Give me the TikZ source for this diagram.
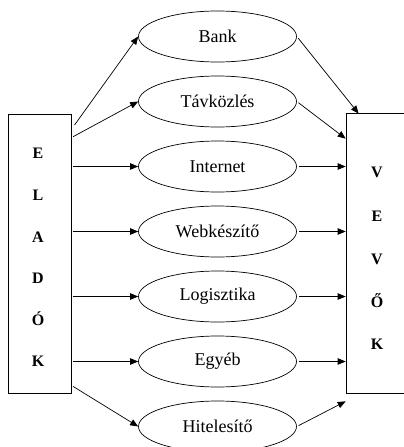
\documentclass[tikz,border=0pt]{standalone}
\usepackage{fontspec}
\setmainfont{Liberation Serif}
\usetikzlibrary{shapes.geometric,positioning,arrows.meta,calc}
\tikzset{
every picture/.style={
line width=0.7pt
},
partner/.style={
  ellipse, draw, minimum width=158pt, minimum height=51pt,
  inner sep=0pt, font=\fontsize{18}{20}\selectfont
},
side/.style={
  draw, minimum width=63pt, minimum height=279pt, inner sep=0pt
},
letter/.style={
  inner sep=0pt, text height=11pt, text depth=0pt,
  font=\fontsize{16}{18}\selectfont\bfseries
},
flow/.style={-{Triangle[length=8pt,width=6.5pt]}, shorten <=2pt}
}
\begin{document}
\begin{tikzpicture}[x=1pt,y=-1pt]
\useasboundingbox (0,0) rectangle (404,447);

\node [partner] at (217.5,36.5) (bank) {Bank};
\node [partner, below=13.3pt of bank] (tav) {Távközlés};
\node [partner, below=13.3pt of tav] (net) {Internet};
\node [partner, below=13.3pt of net] (web) {Webkészítő};
\node [partner, below=13.3pt of web] (log) {Logisztika};
\node [partner, below=13.3pt of log] (egy) {Egyéb};
\node [partner, below=13.3pt of egy] (hit) {Hitelesítő};

\node [side] at (39.5,253.5) (elado) {};
\node [side, draw=none, minimum width=57pt] at (375.5,253.5) (vevo) {};
\draw (vevo.north east) -- (vevo.north west) -- (vevo.south west) -- (vevo.south east);

\foreach \L/\y in {E/153,L/195,A/237,D/278,Ó/320,K/361}
  \node [letter] at (38,\y) (l-\L) {\L};
\foreach \L/\y [count=\i] in {V/172,E/216,V/259,Ő/302,K/344}
  \node [letter] at (377,\y) (r-\i) {\L};

\coordinate (s1) at ($(elado.north east)+(2,13)$);
\coordinate (s2) at ($(elado.north east)+(0,24)$);
\coordinate (s3) at ($(elado.south east)+(0,-8)$);
\coordinate (e1) at ($(vevo.north west)+(12,0)$);
\coordinate (e2) at ($(vevo.north west)+(-1,25)$);
\coordinate (e7) at ($(vevo.south west)+(-1,8)$);

\draw [flow] (s1) -- (bank.west);
\draw [flow] (s2) -- (tav.west);
\foreach \x in {net,web,log,egy} \draw [flow] (elado.east |- \x.west) -- (\x.west);
\draw [flow] (s3) -- (hit.west);

\draw [flow] (bank.east) -- (e1);
\draw [flow] (tav.east) -- (e2);
\foreach \x in {net,web,log,egy} \draw [flow, shorten >=1pt] (\x.east) -- (vevo.west |- \x.east);
\draw [flow] (hit.east) -- (e7);

\end{tikzpicture}
\end{document}
